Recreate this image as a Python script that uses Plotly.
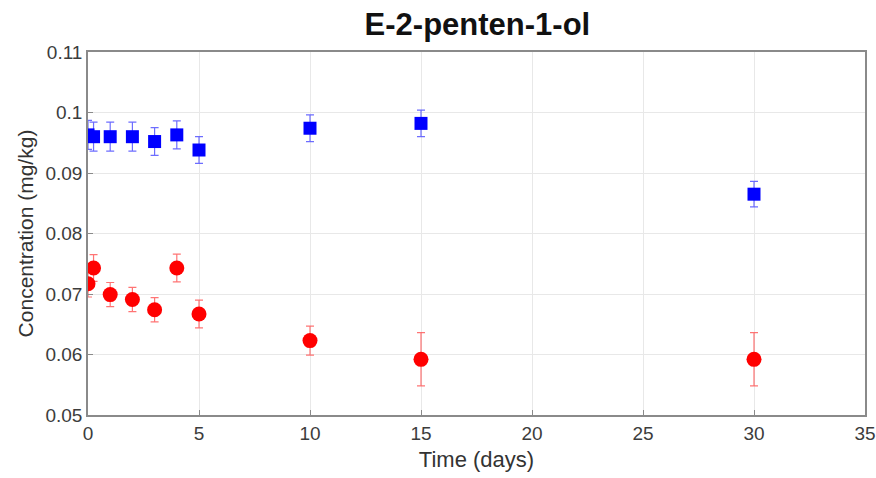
import plotly.graph_objects as go

# Data
days_blue = [0, 0.25, 1, 2, 3, 4, 5, 10, 15, 30]
conc_blue = [0.0963, 0.0960, 0.0960, 0.0960, 0.0952, 0.0963, 0.0938, 0.0974, 0.0982, 0.0865]
err_blue = [0.0024, 0.0024, 0.0024, 0.0024, 0.0023, 0.0023, 0.0022, 0.0022, 0.0022, 0.0021]

days_red = [0, 0.25, 1, 2, 3, 4, 5, 10, 15, 30]
conc_red = [0.0717, 0.0743, 0.0699, 0.0691, 0.0674, 0.0743, 0.0667, 0.0623, 0.0592, 0.0592]
err_red = [0.0022, 0.0022, 0.0020, 0.0020, 0.0020, 0.0023, 0.0023, 0.0024, 0.0044, 0.0044]

x_ticks = [0, 5, 10, 15, 20, 25, 30, 35]
y_ticks = [0.05, 0.06, 0.07, 0.08, 0.09, 0.1, 0.11]
y_tick_text = ["0.05", "0.06", "0.07", "0.08", "0.09", "0.1", "0.11"]

FONT = "Liberation Sans, Arial, sans-serif"

fig = go.Figure()
fig.add_trace(go.Scatter(
    x=days_blue, y=conc_blue, mode="markers",
    marker=dict(symbol="square", size=13, color="#0000ff"),
    error_y=dict(type="data", array=err_blue, visible=True,
                 color="rgba(60,60,255,0.75)", thickness=1.2, width=4),
    showlegend=False,
))
fig.add_trace(go.Scatter(
    x=days_red, y=conc_red, mode="markers",
    marker=dict(symbol="circle", size=15, color="#ff0000"),
    error_y=dict(type="data", array=err_red, visible=True,
                 color="rgba(255,70,70,0.75)", thickness=1.2, width=4),
    showlegend=False,
))

axis_common = dict(
    showline=True, linecolor="#8a8a8a", linewidth=1.5, mirror=True,
    showgrid=True, gridcolor="#e8e8e8", gridwidth=1,
    ticks="inside", ticklen=5, tickcolor="#8a8a8a",
    zeroline=False, automargin=False,
    tickfont=dict(family=FONT, size=19, color="#3c3c3c"),
)

fig.update_layout(
    width=876, height=478,
    margin=dict(l=88, r=11, t=52, b=63),
    paper_bgcolor="white", plot_bgcolor="white",
    title=dict(text="<b>E-2-penten-1-ol</b>", x=0.545, xanchor="center", y=0.95, yanchor="middle",
               font=dict(family=FONT, size=31, color="#111111")),
    xaxis=dict(range=[0, 35], tickvals=x_ticks,
               title=dict(text="Time (days)", standoff=9,
                          font=dict(family=FONT, size=22, color="#333333")),
               **axis_common),
    yaxis=dict(range=[0.05, 0.11], tickvals=y_ticks, ticktext=y_tick_text,
               title=dict(text="Concentration (mg/kg)", standoff=6,
                          font=dict(family=FONT, size=21, color="#333333")),
               **axis_common),
)

fig.write_html("out.html")
